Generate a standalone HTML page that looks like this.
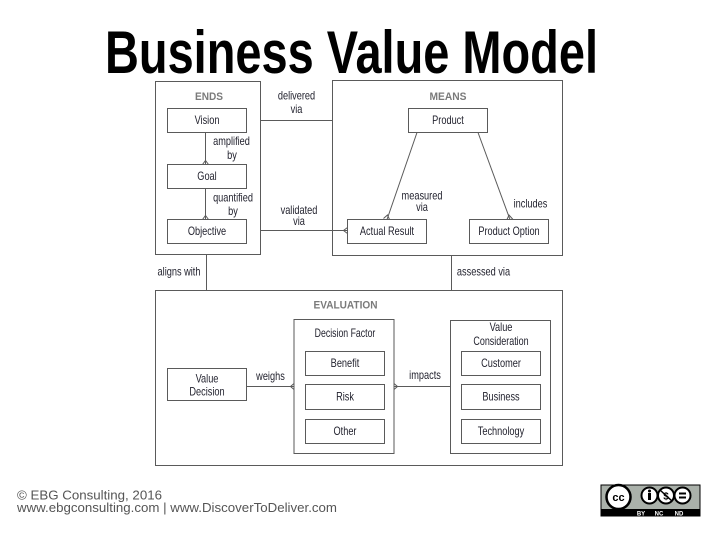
<!DOCTYPE html>
<html><head><meta charset="utf-8"><style>
html,body{margin:0;padding:0;background:#fff;}
svg{display:block;}
.t{font-family:"Liberation Sans",sans-serif;font-size:11.5px;fill:#22222e;text-anchor:middle;}
.h{font-family:"Liberation Sans",sans-serif;font-size:11px;font-weight:bold;fill:#7a7a7a;}
.b{fill:#fff;stroke:#5a5a5a;stroke-width:1;}
.l{stroke:#5a5a5a;stroke-width:1;fill:none;}
</style></head><body>
<svg width="720" height="540" viewBox="0 0 720 540" xmlns="http://www.w3.org/2000/svg">
<rect width="720" height="540" fill="#fff"/>
<text x="105" y="73" font-family="Liberation Sans, sans-serif" font-weight="bold" font-size="60" textLength="493" lengthAdjust="spacingAndGlyphs" fill="#000">Business Value Model</text>

<!-- connectors -->
<g class="l">
<line x1="260.5" y1="120.5" x2="332.5" y2="120.5"/>
<line x1="260.5" y1="230.5" x2="347.5" y2="230.5"/>
<line x1="205.5" y1="132.5" x2="205.5" y2="164.5"/>
<line x1="205.5" y1="188.5" x2="205.5" y2="219.5"/>
<line x1="206.5" y1="254.5" x2="206.5" y2="290.5"/>
<line x1="451.5" y1="255.5" x2="451.5" y2="290.5"/>
<line x1="417" y1="132.5" x2="387" y2="219.5"/>
<line x1="478" y1="132.5" x2="510" y2="219.5"/>
<line x1="247" y1="386.5" x2="294" y2="386.5"/>
<line x1="394" y1="386.5" x2="450.5" y2="386.5"/>
<!-- crow's feet -->
<polyline points="202.5,164.5 205.5,160.5 208.5,164.5"/>
<polyline points="202.5,219.5 205.5,215.5 208.5,219.5"/>
<polyline points="347.5,227.5 343.5,230.5 347.5,233.5"/>
<polyline points="383.5,218.5 387.5,215 389.5,219.5"/>
<polyline points="507,219.5 509,215 513,219.5"/>
<polyline points="294,383.5 290.5,386.5 294,389.5"/>
<polyline points="394,383.5 397.5,386.5 394,389.5"/>
</g>

<!-- containers -->
<rect class="b" x="155.5" y="81.5" width="105" height="173" style="fill:none"/>
<rect class="b" x="332.5" y="80.5" width="230" height="175" style="fill:none"/>
<rect class="b" x="155.5" y="290.5" width="407" height="175" style="fill:none"/>
<rect class="b" x="294" y="319.5" width="100" height="134" style="fill:none"/>
<rect class="b" x="450.5" y="320.5" width="100" height="133" style="fill:none"/>

<!-- boxes -->
<rect class="b" x="167.5" y="108.5" width="79" height="24"/>
<rect class="b" x="167.5" y="164.5" width="79" height="24"/>
<rect class="b" x="167.5" y="219.5" width="79" height="24"/>
<rect class="b" x="408.5" y="108.5" width="79" height="24"/>
<rect class="b" x="347.5" y="219.5" width="79" height="24"/>
<rect class="b" x="469.5" y="219.5" width="79" height="24"/>
<rect class="b" x="167.5" y="368.5" width="79" height="32"/>
<rect class="b" x="305.5" y="351.5" width="79" height="24"/>
<rect class="b" x="305.5" y="384.5" width="79" height="25"/>
<rect class="b" x="305.5" y="419.5" width="79" height="24"/>
<rect class="b" x="461.5" y="351.5" width="79" height="24"/>
<rect class="b" x="461.5" y="384.5" width="79" height="25"/>
<rect class="b" x="461.5" y="419.5" width="79" height="24"/>

<!-- headers -->
<text class="h" x="195" y="100" textLength="28" lengthAdjust="spacingAndGlyphs">ENDS</text>
<text class="h" x="429.5" y="100" textLength="37" lengthAdjust="spacingAndGlyphs">MEANS</text>
<text class="h" x="313.5" y="308.5" textLength="64" lengthAdjust="spacingAndGlyphs">EVALUATION</text>

<!-- labels -->
<g class="t">
<text transform="translate(207,124) scale(0.8,1)">Vision</text>
<text transform="translate(207,180) scale(0.8,1)">Goal</text>
<text transform="translate(207,235) scale(0.8,1)">Objective</text>
<text transform="translate(448,124) scale(0.8,1)">Product</text>
<text transform="translate(387,235) scale(0.8,1)">Actual Result</text>
<text transform="translate(509,235) scale(0.8,1)">Product Option</text>
<text transform="translate(207,382.5) scale(0.8,1)">Value</text>
<text transform="translate(207,395.5) scale(0.8,1)">Decision</text>
<text transform="translate(345,337) scale(0.76,1)">Decision Factor</text>
<text transform="translate(345,367) scale(0.8,1)">Benefit</text>
<text transform="translate(345,400.5) scale(0.8,1)">Risk</text>
<text transform="translate(345,435) scale(0.8,1)">Other</text>
<text transform="translate(501,331) scale(0.8,1)">Value</text>
<text transform="translate(501,345) scale(0.78,1)">Consideration</text>
<text transform="translate(501,367) scale(0.8,1)">Customer</text>
<text transform="translate(501,400.5) scale(0.8,1)">Business</text>
<text transform="translate(501,435) scale(0.8,1)">Technology</text>

<text transform="translate(231.5,145) scale(0.8,1)">amplified</text>
<text transform="translate(232,159) scale(0.8,1)">by</text>
<text transform="translate(233,201.5) scale(0.8,1)">quantified</text>
<text transform="translate(233,215) scale(0.8,1)">by</text>
<text transform="translate(296.5,99.5) scale(0.8,1)">delivered</text>
<text transform="translate(296.5,113) scale(0.8,1)">via</text>
<text transform="translate(299,214) scale(0.8,1)">validated</text>
<text transform="translate(299,225) scale(0.8,1)">via</text>
<text transform="translate(422,199.5) scale(0.8,1)">measured</text>
<text transform="translate(422,211) scale(0.8,1)">via</text>
<text transform="translate(530.5,207.5) scale(0.8,1)">includes</text>
<text transform="translate(179,275.5) scale(0.8,1)">aligns with</text>
<text transform="translate(483.5,275.5) scale(0.8,1)">assessed via</text>
<text transform="translate(270.5,380) scale(0.8,1)">weighs</text>
<text transform="translate(425,379) scale(0.8,1)">impacts</text>
</g>

<!-- footer -->
<text x="17" y="499.3" font-family="Liberation Sans, sans-serif" font-size="12.5" fill="#555" textLength="145" lengthAdjust="spacingAndGlyphs">© EBG Consulting, 2016</text>
<text x="17" y="512" font-family="Liberation Sans, sans-serif" font-size="12.5" fill="#555" textLength="320" lengthAdjust="spacingAndGlyphs">www.ebgconsulting.com | www.DiscoverToDeliver.com</text>

<!-- CC badge -->
<rect x="601" y="485" width="99" height="31" fill="#aab1aa" stroke="#000" stroke-width="1"/>
<rect x="601" y="509" width="99" height="7" fill="#000"/>
<circle cx="618.5" cy="497" r="12" fill="#fff" stroke="#000" stroke-width="2.5"/>
<text x="618.5" y="501" font-family="Liberation Sans, sans-serif" font-weight="bold" font-size="11" text-anchor="middle" fill="#000">cc</text>
<circle cx="649.5" cy="495.5" r="8" fill="#fff" stroke="#000" stroke-width="2"/>
<circle cx="649.5" cy="491" r="1.5" fill="#000"/>
<rect x="648" y="493" width="3" height="7" fill="#000"/>
<circle cx="666" cy="495.5" r="8" fill="#fff" stroke="#000" stroke-width="2"/>
<text x="666" y="499.5" font-family="Liberation Sans, sans-serif" font-weight="bold" font-size="10" text-anchor="middle" fill="#000">$</text>
<line x1="660" y1="490" x2="672" y2="501" stroke="#000" stroke-width="1.5"/>
<circle cx="682.5" cy="495.5" r="8" fill="#fff" stroke="#000" stroke-width="2"/>
<rect x="679" y="492.5" width="7" height="2" fill="#000"/>
<rect x="679" y="496.5" width="7" height="2" fill="#000"/>
<text x="641" y="515.5" font-family="Liberation Sans, sans-serif" font-weight="bold" font-size="6" text-anchor="middle" fill="#fff">BY</text>
<text x="659" y="515.5" font-family="Liberation Sans, sans-serif" font-weight="bold" font-size="6" text-anchor="middle" fill="#fff">NC</text>
<text x="679" y="515.5" font-family="Liberation Sans, sans-serif" font-weight="bold" font-size="6" text-anchor="middle" fill="#fff">ND</text>
</svg>
</body></html>
